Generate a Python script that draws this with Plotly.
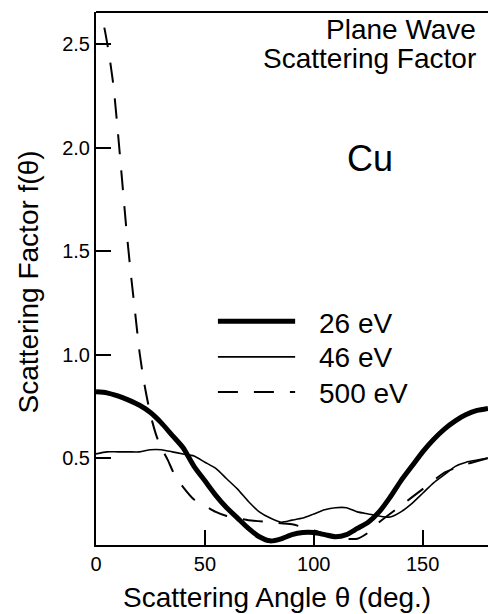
import plotly.graph_objects as go

# ---------------- data ----------------
angle_26 = [0, 5, 10, 15, 20, 25, 30, 35, 40, 45, 50, 55, 60, 65, 70, 75, 80, 85, 90, 95,
            100, 105, 110, 115, 120, 125, 130, 135, 140, 145, 150, 155, 160, 165, 170, 175, 180]
f_26 = [0.82, 0.815, 0.80, 0.78, 0.755, 0.72, 0.67, 0.61, 0.55, 0.46, 0.39, 0.32, 0.26, 0.21,
        0.16, 0.12, 0.10, 0.11, 0.13, 0.14, 0.14, 0.13, 0.12, 0.13, 0.16, 0.19, 0.24, 0.31,
        0.39, 0.46, 0.53, 0.59, 0.64, 0.68, 0.71, 0.73, 0.74]

angle_46 = [0, 5, 10, 15, 20, 25, 30, 35, 40, 45, 50, 55, 60, 65, 70, 75, 80, 85, 90, 95,
            100, 105, 110, 115, 120, 125, 130, 135, 140, 145, 150, 155, 160, 165, 170, 175, 180]
f_46 = [0.52, 0.53, 0.53, 0.53, 0.53, 0.54, 0.54, 0.53, 0.52, 0.51, 0.48, 0.45, 0.40, 0.35,
        0.29, 0.24, 0.21, 0.19, 0.20, 0.21, 0.23, 0.25, 0.26, 0.26, 0.24, 0.23, 0.22, 0.215,
        0.24, 0.28, 0.33, 0.38, 0.42, 0.46, 0.48, 0.49, 0.50]

angle_500 = [0, 2, 4, 6, 8, 10, 12, 14, 16, 18, 20, 22, 24, 26, 28, 30, 33, 36, 40, 45, 50,
             55, 60, 70, 80, 90, 100, 110, 115, 120, 125, 130, 140, 150, 160, 170, 180]
f_500 = [2.75, 2.66, 2.57, 2.45, 2.30, 2.08, 1.84, 1.60, 1.39, 1.20, 1.01, 0.87, 0.76, 0.67,
         0.60, 0.55, 0.49, 0.42, 0.36, 0.30, 0.27, 0.24, 0.22, 0.20, 0.19, 0.18, 0.15, 0.12,
         0.11, 0.11, 0.14, 0.19, 0.27, 0.35, 0.43, 0.47, 0.50]

series_names = ["26 eV", "46 eV", "500 eV"]
x_ticks = [0, 50, 100, 150]
y_ticks = [0.5, 1.0, 1.5, 2.0, 2.5]

FONT = "Liberation Sans, Arial, Helvetica, sans-serif"

styles = [dict(color="black", width=5),
          dict(color="black", width=1.6),
          dict(color="black", width=2, dash="20px,16px")]

fig = go.Figure()
for ang, vals, name, st in zip([angle_26, angle_46, angle_500], [f_26, f_46, f_500],
                               series_names, styles):
    fig.add_trace(go.Scatter(x=ang, y=vals, mode="lines", name=name, showlegend=False,
                             line=dict(shape="spline", smoothing=0.6, **st)))

# hand-placed legend (paper coordinates)
legend_y_line = [0.420, 0.353, 0.287]
legend_y_text = [0.415, 0.351, 0.285]
shapes = [dict(type="line", xref="paper", yref="paper", x0=0, x1=1, y0=1, y1=1,
               line=dict(color="black", width=2))]
annotations = []
for name, st, yl, yt in zip(series_names, styles, legend_y_line, legend_y_text):
    shapes.append(dict(type="line", xref="paper", yref="paper", x0=0.311, x1=0.508,
                       y0=yl, y1=yl, line=st))
    annotations.append(dict(text=name, xref="paper", yref="paper", x=0.564, y=yt,
                            xanchor="left", yanchor="middle", showarrow=False,
                            font=dict(size=28, family=FONT)))

annotations += [
    dict(text="Plane Wave", xref="paper", yref="paper", x=0.975, y=0.935,
         xanchor="right", yanchor="bottom", showarrow=False,
         font=dict(size=28, family=FONT)),
    dict(text="Scattering Factor", xref="paper", yref="paper", x=0.975, y=0.879,
         xanchor="right", yanchor="bottom", showarrow=False,
         font=dict(size=28, family=FONT)),
    dict(text="Cu", xref="paper", yref="paper", x=0.699, y=0.726,
         xanchor="center", yanchor="middle", showarrow=False,
         font=dict(size=36, family=FONT)),
    dict(text="Scattering Angle θ (deg.)", xref="paper", yref="paper", x=0.462,
         y=-0.098, xanchor="center", yanchor="middle", showarrow=False,
         font=dict(size=28, family=FONT)),
    dict(text="Scattering Factor f(θ)", xref="paper", yref="paper", x=-0.173,
         y=0.493, xanchor="center", yanchor="middle", showarrow=False,
         textangle=-90, font=dict(size=28, family=FONT)),
]

fig.update_layout(
    width=488, height=614,
    margin=dict(l=96, r=0, t=12, b=69),
    paper_bgcolor="white", plot_bgcolor="white",
    font=dict(family=FONT, color="black"),
    showlegend=False,
    xaxis=dict(range=[0, 180], tickvals=x_ticks, ticks="inside", ticklen=15,
               tickwidth=2, tickcolor="black", showline=True, linecolor="black",
               linewidth=2, mirror=False, showgrid=False, zeroline=False,
               tickfont=dict(size=20, family=FONT)),
    yaxis=dict(range=[0.08, 2.655], tickvals=y_ticks, tickformat=".1f", ticks="inside",
               ticklen=15, tickwidth=2, tickcolor="black", showline=True,
               linecolor="black", linewidth=2, showgrid=False, zeroline=False,
               tickfont=dict(size=20, family=FONT)),
    shapes=shapes,
    annotations=annotations,
)

fig.write_html("out.html", config={"displayModeBar": False},
               post_script="document.body.style.margin='0';document.body.style.overflow='hidden';")
